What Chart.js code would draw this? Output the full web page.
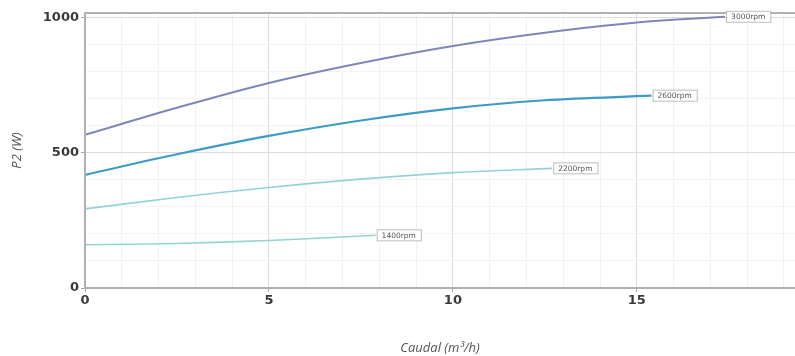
<!DOCTYPE html>
<html>
<head>
<meta charset="utf-8">
<script src="https://cdn.jsdelivr.net/npm/chart.js@4/dist/chart.umd.min.js"></script>
<style>
  html, body { margin: 0; padding: 0; background: #fff; }
  #wrap { width: 795px; height: 356px; }
</style>
</head>
<body>
<div id="wrap"><canvas id="chart"></canvas></div>
<script>
// ─── Curvas P2 vs caudal ──────────────────────────────────────────────────────

const q3000 = [0, 2.5, 5, 7.5, 10, 12.5, 15, 17.4];
const p3000 = [567, 667, 759, 833, 896, 945, 983, 1004];

const q2600 = [0, 2.5, 5, 7.5, 10, 12.5, 15.4];
const p2600 = [419, 495, 563, 620, 665, 695, 712];

const q2200 = [0, 2.5, 5, 7.5, 10, 12.7];
const p2200 = [293, 335, 372, 403, 427, 443];

const q1400 = [0, 2.5, 5, 7.9];
const p1400 = [160, 165, 176, 195];

const speedLabels = ["3000rpm", "2600rpm", "2200rpm", "1400rpm"];
const xTickLabels = [0, 5, 10, 15];
const yTickLabels = [0, 500, 1000];

const toPts = (xs, ys) => xs.map((x, i) => ({ x, y: ys[i] }));

function curve(label, xs, ys, color, width) {
  return {
    label,
    data: toPts(xs, ys),
    borderColor: color,
    borderWidth: width,
    pointRadius: 0,
    showLine: true,
    tension: 0.35,
  };
}

// labels at end of each curve + frame
const endLabels = {
  id: "endLabels",
  afterDatasetsDraw(chart) {
    const ctx = chart.ctx;
    const a = chart.chartArea;
    ctx.save();
    ctx.strokeStyle = "#b0b0b0";
    ctx.lineWidth = 2;
    ctx.beginPath();
    ctx.moveTo(a.left, a.bottom);
    ctx.lineTo(a.left, a.top);
    ctx.lineTo(a.right + 2, a.top);
    ctx.stroke();
    ctx.beginPath();
    ctx.moveTo(a.left, a.bottom);
    ctx.lineTo(a.right + 2, a.bottom);
    ctx.stroke();

    ctx.font = "7.5px 'DejaVu Sans'";
    ctx.textBaseline = "middle";
    chart.data.datasets.forEach((ds, i) => {
      const pts = chart.getDatasetMeta(i).data;
      const last = pts[pts.length - 1];
      const txt = ds.label;
      const w = ctx.measureText(txt).width + 10;
      const x = last.x + 1, y = last.y;
      ctx.fillStyle = "#fff";
      ctx.fillRect(x, y - 6, w, 12);
      ctx.strokeStyle = "#bdbdbd";
      ctx.lineWidth = 1;
      ctx.strokeRect(x + 0.5, y - 5.5, w, 11);
      ctx.fillStyle = "#555";
      ctx.fillText(txt, x + 5, y + 0.5);
    });
    ctx.restore();
  },
};

const gridColor = (major) => (c) =>
  c.tick && c.tick.value % major === 0 ? "#dcdcdc" : "#f3f3f3";
const tickColor = (major) => (c) =>
  c.tick && c.tick.value % major === 0 ? "#aaa" : "rgba(0,0,0,0)";

const stepTicks = (from, to, step) => (s) => {
  s.ticks = [];
  for (let v = from; v <= to; v += step) s.ticks.push({ value: v });
};

new Chart(document.getElementById("chart"), {
  type: "scatter",
  data: {
    datasets: [
      curve(speedLabels[0], q3000, p3000, "#7d87b9", 2),
      curve(speedLabels[1], q2600, p2600, "#3d9cc5", 2.2),
      curve(speedLabels[2], q2200, p2200, "#93d2d9", 1.6),
      curve(speedLabels[3], q1400, p1400, "#92d5cf", 1.6),
    ],
  },
  options: {
    responsive: true,
    maintainAspectRatio: false,
    animation: false,
    layout: { padding: { top: 13, right: 0, bottom: 0, left: 0 } },
    plugins: { legend: { display: false }, tooltip: { enabled: false } },
    scales: {
      x: {
        type: "linear",
        min: 0,
        max: 19.3,
        border: { display: false },
        grid: { color: gridColor(5), tickColor: tickColor(5), tickLength: 4 },
        afterBuildTicks: stepTicks(0, 19, 1),
        ticks: {
          autoSkip: false,
          maxRotation: 0,
          padding: 1,
          color: "#3a3a3a",
          font: { family: "DejaVu Sans", weight: "bold", size: 13 },
          callback: (v) => (xTickLabels.includes(v) ? String(v) : ""),
        },
        title: {
          display: true,
          text: "Caudal (m³/h)",
          color: "#555",
          font: { family: "Open Sans", style: "italic", size: 13 },
          padding: { top: 0, bottom: 0 },
        },
        afterFit: (s) => { s.height = 68; },
      },
      y: {
        type: "linear",
        min: 0,
        max: 1018,
        border: { display: false },
        grid: { color: gridColor(500), tickColor: tickColor(500), tickLength: 4 },
        afterBuildTicks: stepTicks(0, 1000, 100),
        ticks: {
          autoSkip: false,
          padding: 2,
          color: "#3a3a3a",
          font: { family: "DejaVu Sans", weight: "bold", size: 13 },
          callback: (v) => (yTickLabels.includes(v) ? String(v) : ""),
        },
        title: {
          display: true,
          text: "P2 (W)",
          color: "#555",
          font: { family: "Open Sans", style: "italic", size: 13 },
          padding: { top: 9, bottom: 0 },
        },
        afterFit: (s) => { s.width = 85; },
      },
    },
  },
  plugins: [endLabels],
});
</script>
</body>
</html>
